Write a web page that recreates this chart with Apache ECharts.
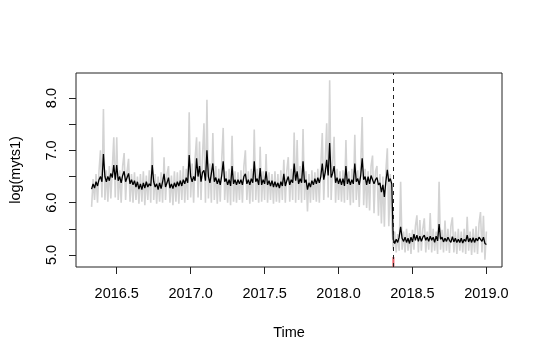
<!DOCTYPE html>
<html>
<head>
<meta charset="utf-8">
<script src="https://cdn.jsdelivr.net/npm/echarts@6/dist/echarts.min.js"></script>
<style>html,body{margin:0;padding:0;background:#fff;}#c{width:540px;height:360px;}</style>
</head>
<body>
<div id="c"></div>
<script>
// time series: start year and step (years) of the sampled index
const tStart = 2016.33;
const tStep = 0.01;

// raw series (gray), log(myts1)
const grayValues = [
 5.92,6.45,6.05,6.55,6.00,6.60,7.00,6.10,7.79,6.05,
 6.62,6.02,6.70,6.08,6.65,7.25,6.10,7.25,6.05,6.62,
 6.00,6.70,6.95,6.05,6.60,6.84,6.02,6.55,6.00,6.58,
 6.05,6.50,5.98,6.55,6.02,6.60,5.95,6.52,6.05,6.62,
 6.00,7.25,6.05,6.55,5.98,6.50,6.02,6.58,6.00,6.87,
 6.05,6.55,6.70,6.00,6.52,5.95,6.60,6.02,6.58,5.98,
 6.62,6.05,6.70,6.00,6.65,6.05,7.73,6.10,6.75,6.00,
 6.85,7.25,6.10,7.17,6.05,6.90,7.52,6.00,7.97,6.08,
 6.75,6.00,7.33,6.05,6.70,5.98,6.65,6.02,6.80,7.43,
 6.05,6.60,6.00,6.65,5.95,7.28,6.02,6.60,6.00,6.58,
 6.05,6.62,6.00,6.70,7.00,6.05,6.60,5.98,6.65,6.02,
 7.40,6.05,6.65,6.00,7.07,6.02,6.60,6.05,6.93,6.00,
 6.58,6.05,6.55,5.98,6.60,6.02,6.55,6.00,6.62,6.05,
 6.82,6.00,6.60,6.87,6.02,6.65,6.05,7.34,6.00,7.20,
 6.05,6.70,6.00,7.41,6.05,6.60,5.83,6.55,6.00,6.62,
 6.05,6.58,6.02,6.65,6.00,6.70,7.33,6.05,6.80,7.52,
 6.10,8.34,6.05,6.75,7.26,6.00,6.65,6.05,6.60,6.02,
 6.62,6.00,7.20,6.05,6.60,5.95,6.65,6.00,7.30,6.05,
 6.62,5.92,6.70,7.64,5.95,6.65,5.90,6.60,5.85,6.70,
 6.90,5.80,6.60,6.70,5.75,6.55,5.60,6.50,5.54,6.60,
 7.04,5.55,6.55,5.60,5.10,5.45,5.05,5.40,5.08,6.40,
 5.10,5.45,5.05,5.50,5.08,5.42,5.02,5.48,5.10,5.55,
 5.76,5.05,5.67,5.08,5.50,5.70,5.05,5.45,5.10,5.80,
 5.05,5.50,5.08,5.45,5.02,6.40,5.10,5.48,5.05,5.66,
 5.08,5.50,5.04,5.55,5.72,5.05,5.45,5.02,5.50,5.08,
 5.45,5.05,5.50,5.02,5.73,5.08,5.45,5.00,5.50,5.05,
 5.55,5.02,5.60,5.82,5.05,5.75,4.91,5.45
];

// smoothed series (black)
const blackValues = [
 6.26,6.36,6.28,6.40,6.32,6.44,6.50,6.40,6.93,6.50,
 6.40,6.50,6.42,6.56,6.48,6.72,6.44,6.72,6.42,6.50,
 6.38,6.52,6.60,6.40,6.48,6.56,6.36,6.44,6.34,6.42,
 6.30,6.40,6.26,6.36,6.25,6.38,6.28,6.40,6.30,6.36,
 6.32,6.72,6.40,6.30,6.36,6.25,6.38,6.27,6.40,6.55,
 6.30,6.38,6.48,6.28,6.36,6.27,6.38,6.30,6.40,6.32,
 6.42,6.32,6.44,6.36,6.48,6.38,6.91,6.50,6.40,6.50,
 6.42,6.85,6.50,6.70,6.40,6.58,6.62,6.42,7.00,6.50,
 6.38,6.56,6.75,6.40,6.48,6.36,6.46,6.34,6.52,6.79,
 6.40,6.46,6.34,6.44,6.32,6.70,6.36,6.44,6.34,6.44,
 6.36,6.44,6.34,6.50,6.55,6.36,6.44,6.34,6.46,6.38,
 6.79,6.40,6.46,6.34,6.66,6.34,6.44,6.36,6.60,6.34,
 6.42,6.32,6.42,6.30,6.40,6.30,6.38,6.28,6.40,6.32,
 6.55,6.32,6.42,6.50,6.34,6.44,6.38,6.75,6.42,6.60,
 6.36,6.46,6.38,6.79,6.38,6.44,6.25,6.38,6.30,6.42,
 6.34,6.46,6.36,6.48,6.38,6.50,6.75,6.44,6.58,6.82,
 6.52,7.14,6.48,6.56,6.70,6.38,6.48,6.36,6.46,6.34,
 6.46,6.32,6.70,6.36,6.46,6.34,6.44,6.36,6.75,6.40,
 6.46,6.34,6.52,6.85,6.44,6.50,6.34,6.50,6.36,6.52,
 6.55,6.36,6.44,6.48,6.34,6.38,6.20,6.34,6.11,6.40,
 6.63,6.40,6.46,6.36,5.30,5.22,5.30,5.24,5.34,5.54,
 5.32,5.26,5.34,5.24,5.32,5.22,5.34,5.25,5.40,5.28,
 5.38,5.26,5.36,5.26,5.34,5.38,5.28,5.34,5.26,5.36,
 5.28,5.34,5.24,5.36,5.27,5.59,5.30,5.34,5.25,5.32,
 5.26,5.34,5.28,5.24,5.35,5.25,5.32,5.24,5.30,5.24,
 5.32,5.23,5.30,5.26,5.38,5.25,5.32,5.24,5.33,5.24,
 5.32,5.27,5.34,5.36,5.26,5.34,5.22,5.20
];

// break point (dashed line + red mark)
const breakTime = [2018.371];

// tick values
const xTicks = [2016.5, 2017.0, 2017.5, 2018.0, 2018.5, 2019.0];
const yTicks = [5.0, 5.5, 6.0, 6.5, 7.0, 7.5, 8.0];
const yLabels = [5.0, 6.0, 7.0, 8.0];

const toPairs = vals => vals.map((v, i) => [+(tStart + i * tStep).toFixed(4), v]);

const FONT = '"Liberation Sans", Arial, Helvetica, sans-serif';
const chart = echarts.init(document.getElementById('c'), null, {renderer: 'canvas'});
chart.setOption({
  animation: false,
  backgroundColor: '#fff',
  grid: {left: 73, right: 38, top: 73, bottom: 93, show: true, borderColor: '#222', borderWidth: 1, backgroundColor: 'transparent'},
  xAxis: {
    type: 'value', min: 2016.2245, max: 2019.1055,
    name: 'Time', nameLocation: 'middle', nameGap: 58,
    nameTextStyle: {fontFamily: FONT, fontSize: 14.5, color: '#000'},
    axisLine: {show: false, onZero: false},
    splitLine: {show: false},
    axisTick: {show: true, length: 7, inside: false, customValues: xTicks, lineStyle: {color: '#222', width: 1}},
    axisLabel: {customValues: xTicks, formatter: v => v.toFixed(1), margin: 19, fontFamily: FONT, fontSize: 14.5, color: '#000'}
  },
  yAxis: {
    type: 'value', min: 4.77, max: 8.48,
    name: 'log(myts1)', nameLocation: 'middle', nameGap: 53, nameRotate: 90,
    nameTextStyle: {fontFamily: FONT, fontSize: 14.5, color: '#000'},
    axisLine: {show: false, onZero: false},
    splitLine: {show: false},
    axisTick: {show: true, length: 7, customValues: yTicks, lineStyle: {color: '#222', width: 1}},
    axisLabel: {customValues: yLabels, rotate: 90, formatter: v => v.toFixed(1), margin: 17, fontFamily: FONT, fontSize: 14.5, color: '#000'}
  },
  series: [
    {
      type: 'line', data: toPairs(grayValues), showSymbol: false, symbol: 'none',
      lineStyle: {color: '#d3d3d3', width: 1.6}, z: 1
    },
    {
      type: 'line', data: toPairs(blackValues), showSymbol: false, symbol: 'none',
      lineStyle: {color: '#000', width: 1.3}, z: 2,
      markLine: {
        silent: true, symbol: 'none', label: {show: false},
        lineStyle: {color: '#222', type: [4, 4], width: 1},
        data: breakTime.map(t => ({xAxis: t}))
      }
    },
    {
      type: 'scatter', data: breakTime.map(t => [t, 4.865]),
      symbol: 'rect', symbolSize: [2, 10], itemStyle: {color: '#e0303a'}, z: 3
    }
  ]
});
</script>
</body>
</html>
